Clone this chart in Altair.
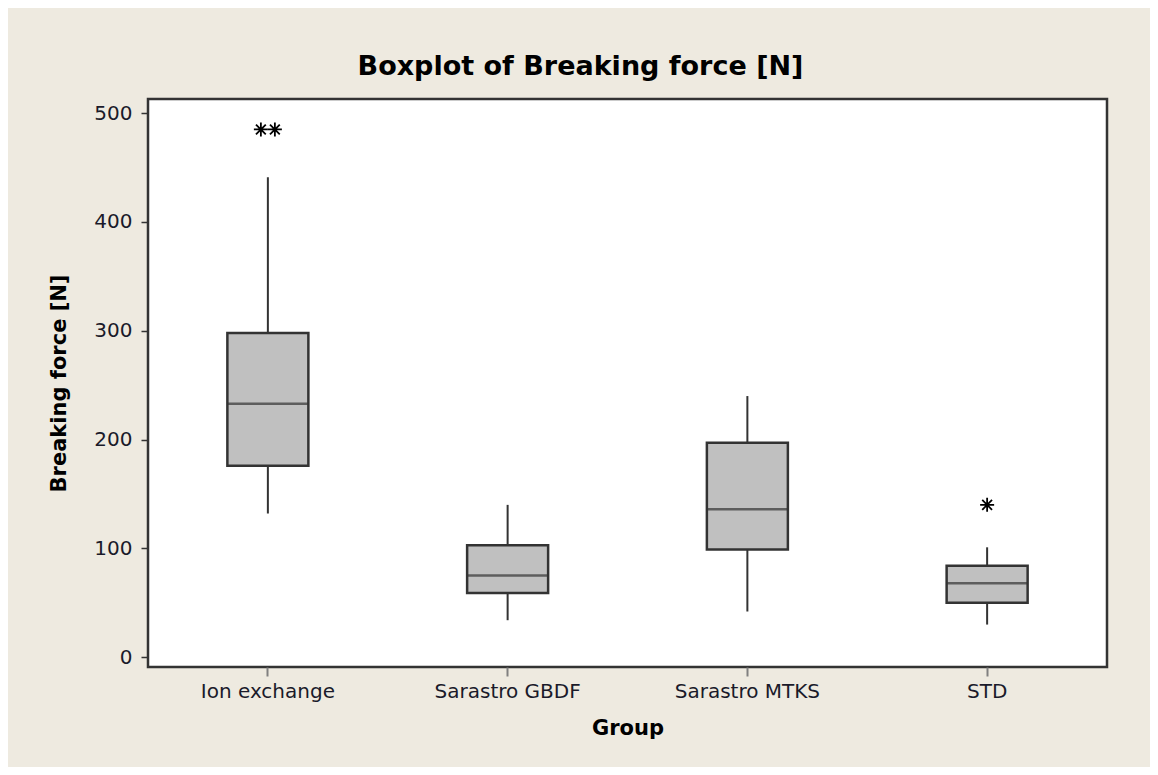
import altair as alt
import pandas as pd

groups = ["Ion exchange", "Sarastro GBDF", "Sarastro MTKS", "STD"]
whisker_low = [132, 34, 42, 30]
q1 = [176, 59, 99, 50]
median = [233, 75, 136, 68]
q3 = [298, 103, 197, 84]
whisker_high = [441, 140, 240, 101]

outlier_group = ["Ion exchange", "Ion exchange", "STD"]
outlier_value = [485, 485, 140]
outlier_side = ["left", "right", "center"]

stats = pd.DataFrame({
    "Group": groups, "low": whisker_low, "q1": q1, "median": median,
    "q3": q3, "high": whisker_high,
})
outliers = pd.DataFrame({"Group": outlier_group, "value": outlier_value,
                         "side": outlier_side})

FONT = "DejaVu Sans"
DARK = "#333333"

x_enc = alt.X("Group:N", sort=groups, title="Group",
              scale=alt.Scale(paddingInner=0, paddingOuter=0),
              axis=alt.Axis(labelAngle=0, domain=False, tickColor="#808080",
                            tickSize=9, tickWidth=2, labelFontSize=20,
                            labelPadding=5, titleFontSize=21,
                            titleFontWeight="bold", titlePadding=16,
                            labelColor="#1a1a2a", titleColor="#000000"))
y_scale = alt.Scale(domain=[-9, 513], nice=False, zero=False)
y_axis = alt.Axis(values=[0, 100, 200, 300, 400, 500], grid=False,
                  domain=False, tickColor=DARK, tickSize=7, tickWidth=1.5,
                  labelFontSize=20, labelPadding=9, titleFontSize=21,
                  titleFontWeight="bold", titlePadding=24,
                  labelColor="#1a1a2a", titleColor="#000000")

base = alt.Chart(stats)

whisk = base.mark_rule(color=DARK, strokeWidth=2).encode(
    x=x_enc,
    y=alt.Y("low:Q", scale=y_scale, axis=y_axis, title="Breaking force [N]"),
    y2="high:Q",
)
box = base.mark_bar(size=81, color="#C0C0C0", stroke=DARK,
                    strokeWidth=2.5).encode(
    x=alt.X("Group:N", sort=groups),
    y=alt.Y("q1:Q", scale=y_scale),
    y2="q3:Q",
)
med = base.mark_tick(size=81, thickness=2.5, color=DARK).encode(
    x=alt.X("Group:N", sort=groups),
    y=alt.Y("median:Q", scale=y_scale),
)

star_c = "M-1,0L1,0M0,-1L0,1M-0.7,-0.7L0.7,0.7M-0.7,0.7L0.7,-0.7"
star_l = "M-2,0L0,0M-1,-1L-1,1M-1.7,-0.7L-0.3,0.7M-1.7,0.7L-0.3,-0.7"
star_r = "M0,0L2,0M1,-1L1,1M0.3,-0.7L1.7,0.7M0.3,0.7L1.7,-0.7"

pts = alt.Chart(outliers).mark_point(
    size=196, filled=False, color="#000000", strokeWidth=1.8, opacity=1
).encode(
    x=alt.X("Group:N", sort=groups),
    y=alt.Y("value:Q", scale=y_scale),
    shape=alt.Shape("side:N", legend=None,
                    scale=alt.Scale(domain=["left", "center", "right"],
                                    range=[star_l, star_c, star_r])),
)

chart = alt.layer(whisk, box, med, pts).properties(
    width=959, height=568,
    title=alt.TitleParams("Boxplot of Breaking force [N]", fontSize=27,
                          font=FONT, fontWeight="bold", color="#000000",
                          anchor="middle", offset=18, dx=-47),
    background="#EEEAE0",
    padding={"left": 140, "top": 91, "right": 43, "bottom": 100},
    autosize=alt.AutoSizeParams(type="none"),
).configure(font=FONT).configure_view(
    fill="#FFFFFF", stroke=DARK, strokeWidth=2.5
)

chart.save("out.html", embed_options={"renderer": "svg", "actions": False})
